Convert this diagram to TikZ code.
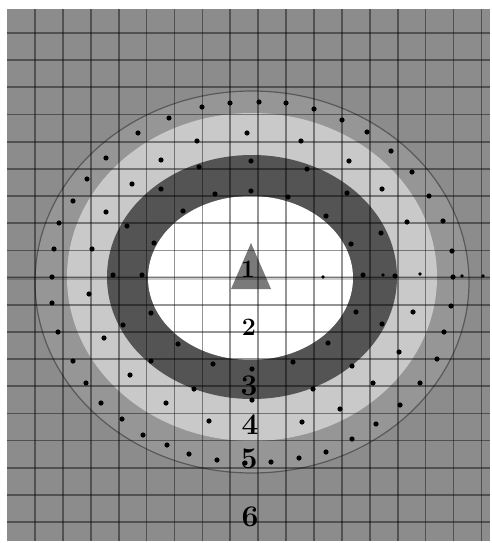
\documentclass[tikz,border=0pt]{standalone}
\usepackage{tikz}
\definecolor{bggray}{gray}{0.55}
\definecolor{bandgray}{gray}{0.59}
\definecolor{ringlight}{gray}{0.79}
\definecolor{ringdark}{gray}{0.33}
\definecolor{trigray}{gray}{0.48}
\begin{document}
\begin{tikzpicture}[x=1pt, y=-1pt,
  zone/.style={font=\fontsize{30}{30}\selectfont\bfseries, inner sep=0pt},
  zonesmall/.style={zone, font=\fontsize{25}{25}\selectfont\bfseries},
  gridline/.style={black, opacity=0.42, line width=1.7pt},
  axisline/.style={black, opacity=0.2, line width=4pt},
  dot/.style={fill=black}]
\useasboundingbox (0,0) rectangle (491,543);
\fill[bggray] (7,9) rectangle (490,541);
% zones, outside in
\filldraw[fill=bandgray, draw=black!65, line width=1.2pt]
  (252,282) ellipse [x radius=217pt, y radius=191pt];
\fill[ringlight] (252,277) ellipse [x radius=185pt, y radius=164pt];
\fill[ringdark] (252,277) ellipse [x radius=145pt, y radius=122pt];
\fill[white] (250.5,278) ellipse [x radius=102.5pt, y radius=82pt];
\fill[trigray] (251,243) -- (271,289) -- (231,289) -- cycle;
% grid
\foreach \i in {0,...,16}
  \draw[gridline] ({35+27.9*\i},9) -- ({35+27.9*\i},541);
\foreach \j in {0,...,18}
  \draw[gridline] (7,{33+27.17*\j}) -- (490,{33+27.17*\j});
\draw[axisline] (7,277.5) -- (490,277.5);
% dots
\foreach \p in {(202,107),(230,103),(169,118),(138,133),(247,133),(197,141),
  (161,160),(106,158),(199,167),(87,179),(132,184),(161,189),(215,194),
  (73,201),(106,212),(183,211),(59,223),(127,226),(154,243),(54,249),
  (92,249),(251,161),(251,191),(259,102),(286,103),(314,109),(342,120),
  (367,132),(391,151),(412,172),(429,196),(443,221),(452,251),(301,141),
  (349,161),(382,189),(407,222),(307,169),(347,193),(288,197),(326,216),
  (351,244),(381,233),(52,277),(89,294),(113,275),(142,275),(52,303),
  (151,313),(123,325),(58,332),(104,338),(178,344),(73,361),(151,361),
  (213,364),(130,375),(86,383),(194,389),(101,403),(166,403),(122,419),
  (209,421),(143,435),(167,445),(189,454),(217,460),(451,306),(356,312),
  (413,312),(382,324),(444,332),(328,343),(399,352),(437,359),(293,362),
  (352,366),(252,369),(373,383),(420,383),(313,389),(252,400),(400,405),
  (340,409),(302,422),(376,424),(352,439),(326,452),(299,458),(271,462),
  (245,463),(363,275),(395,276),(453,277)}
  \fill[dot] \p circle[radius=2.6pt];
\foreach \p in {(323,277),(383,275),(420,274),(462,276),(483,276)}
  \fill[dot] \p circle[radius=1.8pt];
% zone numbers
\node[zonesmall] (zone1) at (248,269) {1};
\node[zonesmall] (zone2) at (249,327) {2};
\node[zone] (zone3) at (249,386) {3};
\node[zone] (zone4) at (250,425) {4};
\node[zone] (zone5) at (249,459) {5};
\node[zone] (zone6) at (250,517) {6};
\end{tikzpicture}
\end{document}
